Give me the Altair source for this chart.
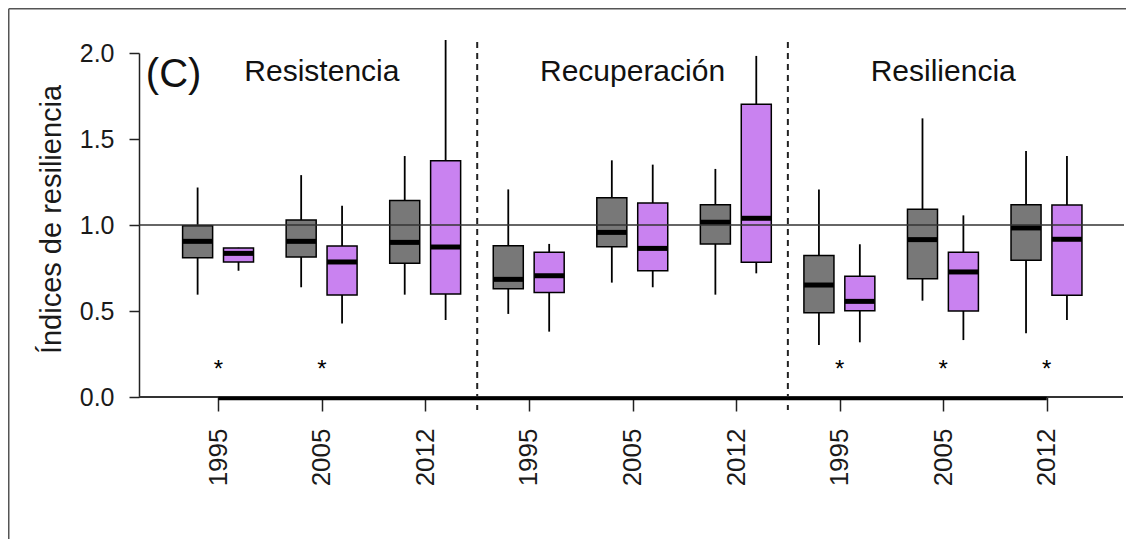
import json
import altair as alt
import pandas as pd

# ---------------- data ----------------
groups = ["Resistencia", "Recuperación", "Resiliencia"]
years = ["1995", "2005", "2012"]
series = ["Gris", "Morado"]

# order: Resistencia 1995, 2005, 2012, Recuperación 1995, 2005, 2012, Resiliencia 1995, 2005, 2012
gray_low = [0.595, 0.638, 0.595, 0.483, 0.665, 0.595, 0.302, 0.560, 0.370]
gray_q1 = [0.810, 0.814, 0.777, 0.630, 0.874, 0.890, 0.490, 0.688, 0.795]
gray_med = [0.905, 0.905, 0.899, 0.684, 0.957, 1.016, 0.651, 0.915, 0.983]
gray_q3 = [0.996, 1.029, 1.143, 0.880, 1.159, 1.118, 0.822, 1.091, 1.118]
gray_high = [1.218, 1.290, 1.401, 1.207, 1.376, 1.326, 1.207, 1.620, 1.430]

purple_low = [0.734, 0.428, 0.448, 0.380, 0.638, 0.719, 0.318, 0.331, 0.448]
purple_q1 = [0.785, 0.593, 0.599, 0.608, 0.734, 0.783, 0.502, 0.500, 0.591]
purple_med = [0.835, 0.785, 0.872, 0.705, 0.864, 1.039, 0.556, 0.727, 0.917]
purple_q3 = [0.866, 0.878, 1.374, 0.841, 1.128, 1.702, 0.702, 0.841, 1.116]
purple_high = [0.868, 1.112, 2.076, 0.890, 1.351, 1.983, 0.888, 1.056, 1.401]

signif = [1, 1, 0, 0, 0, 0, 1, 1, 1]

# ---------------- tables ----------------
rows = []
for s, stats in zip(series, [
    (gray_low, gray_q1, gray_med, gray_q3, gray_high),
    (purple_low, purple_q1, purple_med, purple_q3, purple_high),
]):
    lo, q1, md, q3, hi = stats
    for i in range(9):
        rows.append(dict(slot=i, grupo=groups[i // 3], anio=years[i % 3], serie=s,
                         low=lo[i], q1=q1[i], med=md[i], q3=q3[i], high=hi[i]))
df = pd.DataFrame(rows)

star_df = pd.DataFrame({"slot": [i for i in range(9) if signif[i]], "txt": "*", "yv": 0.116})
title_df = pd.DataFrame({"slot": [1, 4, 7], "txt": groups, "yv": 1.837})
sep_df = pd.DataFrame({"sep": [2.5, 5.5], "top": 2.064, "bot": -0.076})
panel_df = pd.DataFrame({"xv": [-0.700], "yv": [1.805], "txt": ["(C)"]})
ref_df = pd.DataFrame({"v": [1.0]})
zero_df = pd.DataFrame({"a": [0], "b": [8], "v": [0.0]})
one_df = pd.DataFrame({"k": [1]})

W, H = 985, 344
FONT = "Liberation Sans"
xscale = alt.Scale(domain=[-0.766, 8.746], nice=False, zero=False)
yscale = alt.Scale(domain=[0, 2], nice=False, zero=False)

xaxis = alt.Axis(values=list(range(9)), title=None, domain=False, grid=False,
                 labelExpr=f"{json.dumps(years)}[datum.value % 3]",
                 labelAngle=-90, labelFontSize=26, labelColor="#1a1a1a",
                 labelFont=FONT, labelPadding=17, tickSize=14, tickWidth=1.5,
                 tickColor="#222222")
yaxis = alt.Axis(values=[0, 0.5, 1.0, 1.5, 2.0], format=".1f", grid=False,
                 title="Índices de resiliencia", titleFontSize=29,
                 titleFont=FONT, titleFontWeight="normal", titleColor="#1a1a1a",
                 titleX=-79, titleY=166, titleAngle=-90, titleBaseline="alphabetic",
                 titleAlign="center",
                 labelFontSize=25, labelFont=FONT, labelColor="#1a1a1a",
                 labelPadding=15, tickSize=10, tickWidth=1.5, tickColor="#222222",
                 domainColor="#222222", domainWidth=1.5)


def X(field):
    return alt.X(field, scale=xscale, axis=xaxis)


def Y(field):
    return alt.Y(field, scale=yscale, axis=yaxis)


base = alt.Chart(df).transform_calculate(
    pos="datum.slot + (datum.serie == 'Gris' ? -0.2 : 0.195)"
).transform_calculate(
    x_lo="datum.pos - 0.145", x_hi="datum.pos + 0.145"
)

whiskers = base.mark_rule(color="black", strokeWidth=1.8).encode(
    x=X("pos:Q"), y=Y("low:Q"), y2="high:Q",
)

boxes = base.mark_rect(stroke="black", strokeWidth=1.5).encode(
    x=X("x_lo:Q"), x2="x_hi:Q",
    y=Y("q1:Q"), y2="q3:Q",
    fill=alt.Color("serie:N", scale=alt.Scale(domain=series, range=["#787878", "#c982f0"]),
                   legend=None),
)

medians = base.mark_rule(color="black", strokeWidth=5).encode(
    x=X("x_lo:Q"), x2="x_hi:Q", y=Y("med:Q"),
)

hline = alt.Chart(ref_df).mark_rule(color="#333333", strokeWidth=1.3).encode(
    y=Y("v:Q")
)

seps = alt.Chart(sep_df).mark_rule(color="#222222", strokeWidth=2, strokeDash=[6, 5]).encode(
    x=X("sep:Q"), y=Y("top:Q"), y2="bot:Q",
)

base_thin = alt.Chart(zero_df).mark_rule(color="#333333", strokeWidth=1.8).encode(
    x=alt.value(0), x2=alt.value(W - 1), y=Y("v:Q"),
)

base_thick = alt.Chart(zero_df).mark_rule(color="black", strokeWidth=3.5, yOffset=1.5).encode(
    x=X("a:Q"), x2="b:Q", y=Y("v:Q"),
)

stars = alt.Chart(star_df).mark_text(font=FONT, fontSize=24, baseline="alphabetic",
                                     color="black").encode(
    x=X("slot:Q"), y=Y("yv:Q"), text="txt:N",
)

titles = alt.Chart(title_df).mark_text(font=FONT, fontSize=30, baseline="alphabetic",
                                       color="#111111").encode(
    x=X("slot:Q"), y=Y("yv:Q"), text="txt:N",
)

panel = alt.Chart(panel_df).mark_text(font=FONT, fontSize=40, baseline="alphabetic",
                                      align="left", color="#111111").encode(
    x=X("xv:Q"), y=Y("yv:Q"), text="txt:N",
)

frame_top = alt.Chart(one_df).mark_rule(color="#555555", strokeWidth=1.5).encode(
    x=alt.value(-130.25), x2=alt.value(W + 10), y=alt.value(-44.25)
)
frame_left = alt.Chart(one_df).mark_rule(color="#555555", strokeWidth=1.5).encode(
    x=alt.value(-130.25), y=alt.value(-44.25), y2=alt.value(H + 160)
)

chart = alt.layer(
    frame_top, frame_left, seps, whiskers, boxes, medians, hline,
    base_thin, base_thick, stars, titles, panel
).properties(
    width=W, height=H,
    autosize=alt.AutoSizeParams(type="none"),
    padding={"left": 131, "top": 45, "right": 2, "bottom": 142},
).configure(font=FONT).configure_view(stroke=None)

chart.save("out.html", embed_options={"renderer": "svg", "actions": False})
